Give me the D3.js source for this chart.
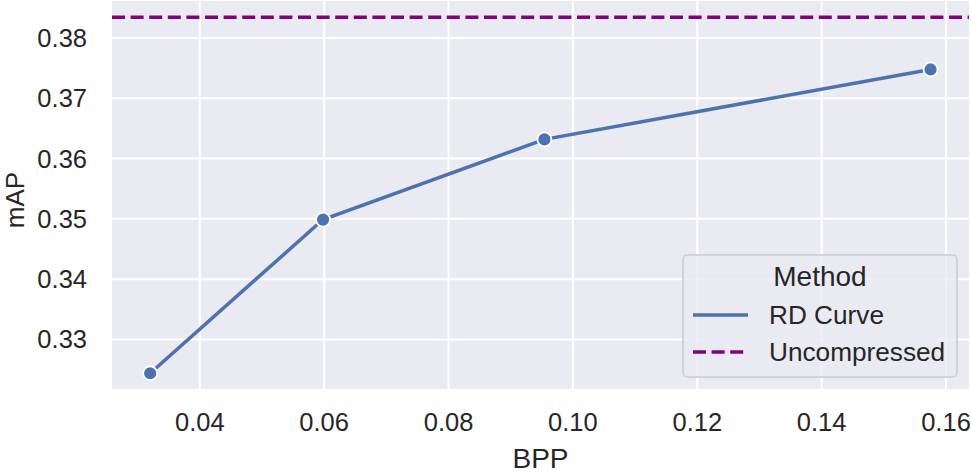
<!DOCTYPE html>
<html><head><meta charset="utf-8">
<script src="https://cdn.jsdelivr.net/npm/d3@7"></script>
<style>body{margin:0;background:#fff;} svg{display:block;}</style>
</head><body>
<svg id="chart" width="971" height="474"></svg>
<script>
const bpp = [0.0321, 0.0599, 0.0955, 0.1576];
const mAP = [0.3243, 0.3498, 0.3631, 0.3747];
const uncompressed = 0.38336;
const xTicks = [0.04, 0.06, 0.08, 0.10, 0.12, 0.14, 0.16];
const yTicks = [0.33, 0.34, 0.35, 0.36, 0.37, 0.38];
const legendTitle = "Method";
const seriesNames = ["RD Curve", "Uncompressed"];

const svg = d3.select("#chart");
const L = 112, R = 969, T = 1, B = 389;
const x = d3.scaleLinear().domain([0.02596, 0.16378]).range([L, R]);
const y = d3.scaleLinear().domain([0.32169, 0.38606]).range([B, T]);
const font = "'Liberation Sans', Arial, Helvetica, sans-serif";
const txt = "#262626";

svg.append("rect").attr("x", L).attr("y", T).attr("width", R - L).attr("height", B - T).attr("fill", "#EAEAF2");

const xa = svg.append("g").attr("transform", `translate(0,${B})`)
  .call(d3.axisBottom(x).tickValues(xTicks).tickFormat(d3.format(".2f")).tickSize(-(B - T)).tickPadding(24));
const ya = svg.append("g").attr("transform", `translate(${L},0)`)
  .call(d3.axisLeft(y).tickValues(yTicks).tickFormat(d3.format(".2f")).tickSize(-(R - L)).tickPadding(25));
[xa, ya].forEach(a => {
  a.select(".domain").remove();
  a.selectAll(".tick line").attr("stroke", "#fff").attr("stroke-width", 2);
  a.selectAll(".tick text").attr("fill", txt).style("font-family", font).style("font-size", "25.5px");
});
ya.selectAll(".tick text").attr("dy", "0.35em");

svg.append("text").attr("x", (L + R) / 2).attr("y", 468).attr("text-anchor", "middle")
  .attr("fill", txt).style("font-family", font).style("font-size", "28px").text("BPP");
svg.append("text").attr("transform", `translate(24,${(T + B) / 2 + 5}) rotate(-90)`).attr("text-anchor", "middle")
  .attr("fill", txt).style("font-family", font).style("font-size", "26px").text("mAP");

svg.append("clipPath").attr("id", "clip").append("rect")
  .attr("x", L).attr("y", T).attr("width", R - L).attr("height", B - T);

const g = svg.append("g").attr("clip-path", "url(#clip)");
g.append("line").attr("x1", L).attr("x2", R).attr("y1", y(uncompressed)).attr("y2", y(uncompressed))
  .attr("stroke", "purple").attr("stroke-width", 3.5).attr("stroke-dasharray", "13,5.6");

const pts = bpp.map((v, i) => [v, mAP[i]]);
g.append("path").datum(pts).attr("fill", "none").attr("stroke", "#4C72B0").attr("stroke-width", 3.5)
  .attr("d", d3.line().x(d => x(d[0])).y(d => y(d[1])));
g.selectAll("circle").data(pts).join("circle")
  .attr("cx", d => x(d[0])).attr("cy", d => y(d[1])).attr("r", 7)
  .attr("fill", "#4C72B0").attr("stroke", "#fff").attr("stroke-width", 1.8);

// legend
const lg = svg.append("g");
lg.append("rect").attr("x", 683).attr("y", 255).attr("width", 274).attr("height", 122).attr("rx", 4)
  .attr("fill", "#EAEAF2").attr("fill-opacity", 0.8).attr("stroke", "#cccccc").attr("stroke-width", 1.5);
lg.append("text").attr("x", 820).attr("y", 286).attr("text-anchor", "middle").attr("fill", txt)
  .style("font-family", font).style("font-size", "28px").text(legendTitle);
const styles = [{c: "#4C72B0", dash: null, yy: 315}, {c: "purple", dash: "13,5.6", yy: 352}];
seriesNames.forEach((n, i) => {
  lg.append("line").attr("x1", 693).attr("x2", 748).attr("y1", styles[i].yy).attr("y2", styles[i].yy)
    .attr("stroke", styles[i].c).attr("stroke-width", 3.5).attr("stroke-dasharray", styles[i].dash);
  lg.append("text").attr("x", 769).attr("y", styles[i].yy + 9).attr("fill", txt)
    .style("font-family", font).style("font-size", "26.2px").text(n);
});
</script>
</body></html>
